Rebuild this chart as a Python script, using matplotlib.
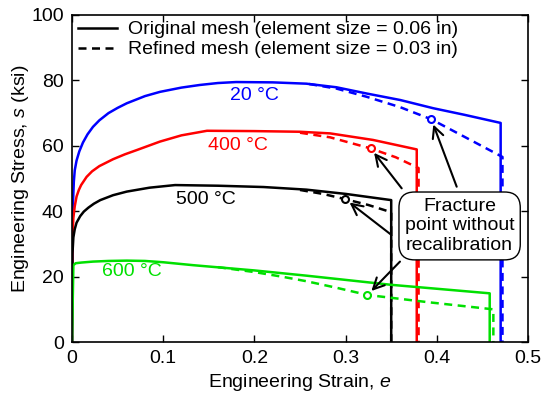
import matplotlib
matplotlib.use("Agg")
import matplotlib.pyplot as plt

plt.rcParams['font.family'] = ['Liberation Sans', 'DejaVu Sans']
plt.rcParams['mathtext.fontset'] = 'custom'
plt.rcParams['mathtext.it'] = 'Liberation Sans:italic'
plt.rcParams['mathtext.rm'] = 'Liberation Sans'

# stress-strain curves (strain in in/in, stress in ksi)
t20_strain = [0, 0.0005, 0.001, 0.002, 0.003, 0.005, 0.008, 0.012, 0.017, 0.023, 0.03, 0.04,
              0.05, 0.06, 0.08, 0.0965, 0.12, 0.14, 0.16, 0.18, 0.22, 0.257, 0.29, 0.323,
              0.36, 0.396, 0.43, 0.47, 0.47]
t20_stress = [0, 35, 42, 49, 52.5, 55.5, 58.3, 61, 63.5, 65.8, 67.8, 70,
              71.6, 73, 75.2, 76.5, 77.8, 78.6, 79.2, 79.5, 79.4, 79.0, 77.9, 76.0,
              74.0, 71.5, 69.5, 67.0, 0]
t20_ref_strain = [0.26, 0.29, 0.323, 0.36, 0.394, 0.43, 0.472, 0.472]
t20_ref_stress = [78.9, 77.5, 75.0, 71.8, 68.1, 62.8, 56.6, 0]

t400_strain = [0, 0.0005, 0.0015, 0.003, 0.005, 0.0075, 0.01, 0.016, 0.022, 0.03, 0.045,
               0.058, 0.071, 0.0965, 0.12, 0.148, 0.2, 0.25, 0.283, 0.33, 0.378, 0.378]
t400_stress = [0, 32, 38, 41.5, 44.5, 46.5, 48, 50.5, 52.2, 53.8, 55.9,
               57.4, 58.7, 61.3, 63.2, 64.6, 64.5, 64.3, 63.8, 61.8, 58.9, 0]
t400_ref_strain = [0.25, 0.283, 0.3275, 0.355, 0.38, 0.38]
t400_ref_stress = [64.0, 62.6, 59.2, 56.5, 53.2, 0]

t500_strain = [0, 0.0005, 0.0015, 0.003, 0.005, 0.009, 0.013, 0.018, 0.024, 0.031, 0.045,
               0.06, 0.085, 0.113, 0.16, 0.21, 0.257, 0.3, 0.35, 0.35]
t500_stress = [0, 27, 32, 34.5, 36.5, 38.5, 39.9, 41.1, 42.3, 43.4, 44.9,
               46.0, 47.2, 48.0, 47.8, 47.4, 46.6, 45.3, 43.4, 0]
t500_ref_strain = [0.25, 0.275, 0.2995, 0.325, 0.35, 0.35]
t500_ref_stress = [46.5, 45.3, 43.7, 41.9, 39.7, 0]

t600_strain = [0, 0.0015, 0.004, 0.01, 0.023, 0.04, 0.06, 0.08, 0.1, 0.133, 0.2, 0.257,
               0.35, 0.458, 0.458]
t600_stress = [0, 23.5, 24.1, 24.3, 24.6, 24.8, 24.9, 24.8, 24.4, 23.5, 21.9, 20.3,
               17.5, 14.9, 0]
t600_ref_strain = [0.16, 0.2, 0.23, 0.257, 0.29, 0.324, 0.39, 0.462, 0.462]
t600_ref_stress = [22.9, 21.4, 20.0, 18.6, 16.6, 14.4, 12.2, 10.0, 0]

# fracture points of the refined mesh without recalibration
frac_strain = [0.394, 0.3275, 0.2995, 0.324]
frac_stress = [68.1, 59.2, 43.7, 14.4]

colors = ['#0000ff', '#ff0000', '#000000', '#00e000']
labels = ['20 °C', '400 °C', '500 °C', '600 °C']
label_pos = [(0.2, 75.5), (0.182, 60), (0.147, 43.7), (0.066, 21.6)]

fig = plt.figure(figsize=(5.43, 4.01), dpi=100)
ax = fig.add_axes([0.1326, 0.147, 0.8398, 0.8156])

curves = [(t20_strain, t20_stress, t20_ref_strain, t20_ref_stress),
          (t400_strain, t400_stress, t400_ref_strain, t400_ref_stress),
          (t500_strain, t500_stress, t500_ref_strain, t500_ref_stress),
          (t600_strain, t600_stress, t600_ref_strain, t600_ref_stress)]

for (xs, ys, xr, yr), c in zip(curves, colors):
    ax.plot(xs, ys, color=c, lw=1.8, solid_joinstyle='round')
    ax.plot(xr, yr, color=c, lw=1.8, ls=(0, (3.2, 2.2)))

for x, y, c in zip(frac_strain, frac_stress, colors):
    ax.plot(x, y, 'o', ms=5, mfc='white', mec=c, mew=1.5, zorder=5)

for lab, (x, y), c in zip(labels, label_pos, colors):
    ax.text(x, y, lab, color=c, fontsize=14, ha='center', va='center')

# legend entries
ax.plot([], [], color='k', lw=1.8, label='Original mesh (element size = 0.06 in)')
ax.plot([], [], color='k', lw=1.8, ls=(0, (3.2, 2.2)),
        label='Refined mesh (element size = 0.03 in)')
ax.legend(loc='upper left', frameon=False, fontsize=14, handlelength=2.0,
          borderaxespad=0.0, borderpad=0.3, labelspacing=0.12, handletextpad=0.6)

# arrows from the callout box to each fracture point
tails = [(0.4218, 47.5), (0.3615, 47.0), (0.3505, 32.7), (0.3596, 24.6)]
for (tx, ty), x, y in zip(tails, frac_strain, frac_stress):
    ax.annotate('', xy=(x, y), xytext=(tx, ty),
                arrowprops=dict(arrowstyle='->', lw=1.5, color='k',
                                shrinkA=0, shrinkB=4, mutation_scale=20))

ax.text(0.425, 35.5, 'Fracture\npoint without\nrecalibration', fontsize=14,
        ha='center', va='center', linespacing=1.2, zorder=10,
        bbox=dict(boxstyle='round,pad=0.3,rounding_size=0.8', fc='white', ec='k', lw=1))

ax.set_xlim(0, 0.5)
ax.set_ylim(0, 100)
ax.set_xticks([0, 0.1, 0.2, 0.3, 0.4, 0.5])
ax.set_xticklabels(['0', '0.1', '0.2', '0.3', '0.4', '0.5'])
ax.set_yticks([0, 20, 40, 60, 80, 100])
ax.tick_params(direction='in', top=True, right=True, length=5, width=1,
               labelsize=14, pad=6)
for s in ax.spines.values():
    s.set_linewidth(1.2)
ax.set_xlabel('Engineering Strain, $e$', fontsize=14, labelpad=3)
ax.set_ylabel('Engineering Stress, $s$ (ksi)', fontsize=14, labelpad=0)

fig.savefig('out.png', dpi=100)
